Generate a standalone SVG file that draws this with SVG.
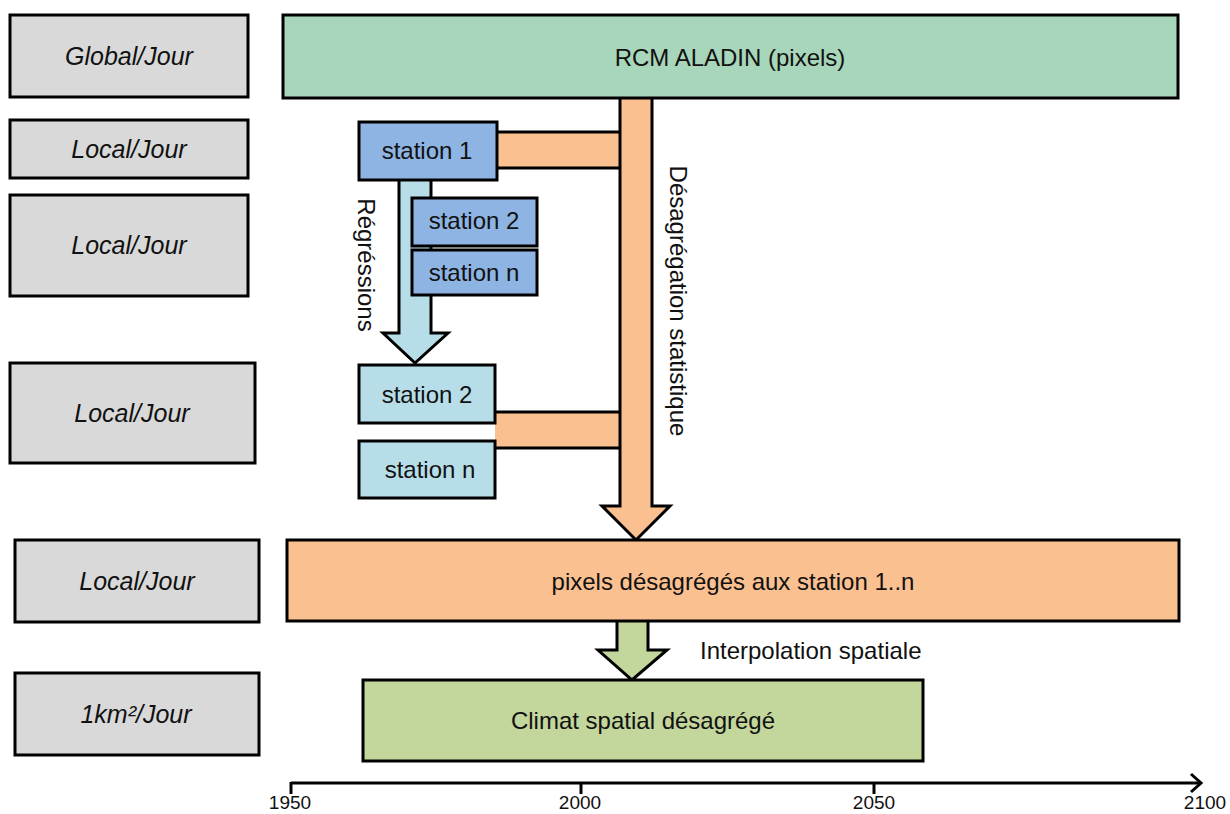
<svg xmlns="http://www.w3.org/2000/svg" width="1230" height="814" viewBox="0 0 1230 814">
<style>
.lbl{fill:#D9D9D9;stroke:#000;stroke-width:3}
.li{font-family:"Liberation Sans",Arial,sans-serif;font-style:italic;font-size:25px;fill:#111;text-anchor:middle}
.t{font-family:"Liberation Sans",Arial,sans-serif;font-size:24px;fill:#111;text-anchor:middle}
.s{stroke:#000;stroke-width:3;stroke-linejoin:miter}
.bar{stroke:#000;stroke-width:3}
.ax{font-family:"Liberation Sans",Arial,sans-serif;font-size:19px;fill:#111;text-anchor:middle}
</style>
<rect width="1230" height="814" fill="#fff"/>
<g id="scale-labels">
<g id="lbl-global"><rect class="lbl" x="10" y="15" width="238" height="82"/><text class="li" x="129" y="65">Global/Jour</text></g>
<g id="lbl-local1"><rect class="lbl" x="10" y="120" width="238" height="58"/><text class="li" x="129" y="158">Local/Jour</text></g>
<g id="lbl-local2"><rect class="lbl" x="10" y="195" width="238" height="101"/><text class="li" x="129" y="254">Local/Jour</text></g>
<g id="lbl-local3"><rect class="lbl" x="10" y="363" width="245" height="100"/><text class="li" x="132" y="422">Local/Jour</text></g>
<g id="lbl-local4"><rect class="lbl" x="15" y="540" width="244" height="82"/><text class="li" x="137" y="590">Local/Jour</text></g>
<g id="lbl-1km"><rect class="lbl" x="15" y="673" width="244" height="82"/><text class="li" x="136" y="723">1km²/Jour</text></g>
</g>
<g id="connectors">
<rect x="497" y="132" width="123" height="36" fill="#FAC090"/>
<line class="bar" x1="497" y1="132" x2="620" y2="132"/>
<line class="bar" x1="497" y1="168" x2="620" y2="168"/>
<rect x="495" y="412" width="125" height="36" fill="#FAC090"/>
<line class="bar" x1="495" y1="412" x2="620" y2="412"/>
<line class="bar" x1="495" y1="448" x2="620" y2="448"/>
<polygon class="s" fill="#FAC090" points="620,96 652,96 652,506 670,506 636,540 602,506 620,506"/>
<polygon class="s" fill="#B7DEE8" points="399,178 431,178 431,333 448,333 415,363 383,333 399,333"/>
<polygon class="s" fill="#C3D69B" points="617,620 648,620 648,650 667,650 632,680 598,650 617,650"/>
</g>
<g id="rcm"><rect class="s" x="283" y="15" width="895" height="83" fill="#A8D6BA"/><text class="t" x="730" y="66">RCM ALADIN (pixels)</text></g>
<g id="station1"><rect class="s" x="359" y="122" width="138" height="58" fill="#8EB4E3"/><text class="t" x="427" y="159">station 1</text></g>
<g id="station2a"><rect class="s" x="412" y="198" width="125" height="48" fill="#8EB4E3"/><text class="t" x="474" y="229">station 2</text></g>
<g id="stationna"><rect class="s" x="412" y="250" width="125" height="45" fill="#8EB4E3"/><text class="t" x="474" y="281">station n</text></g>
<g id="station2b"><rect class="s" x="359" y="365" width="136" height="58" fill="#B7DEE8"/><text class="t" x="427" y="403">station 2</text></g>
<g id="stationnb"><rect class="s" x="359" y="441" width="136" height="57" fill="#B7DEE8"/><text class="t" x="430" y="478">station n</text></g>
<g id="pixels"><rect class="s" x="287" y="540" width="892" height="81" fill="#FAC090"/><text class="t" x="733" y="590">pixels désagrégés aux station 1..n</text></g>
<g id="climat"><rect class="s" x="363" y="680" width="560" height="81" fill="#C3D69B"/><text class="t" x="643" y="729">Climat spatial désagrégé</text></g>
<g id="labels">
<text class="t" transform="translate(358,265) rotate(90)">Régréssions</text>
<text class="t" transform="translate(670,301) rotate(90)">Désagrégation statistique</text>
<text class="t" x="700" y="659" style="text-anchor:start">Interpolation spatiale</text>
</g>
<g id="axis">
<line x1="291" y1="783" x2="1201" y2="783" stroke="#000" stroke-width="3"/>
<polyline points="1191,774 1201,783 1191,792" fill="none" stroke="#000" stroke-width="3"/>
<line x1="291" y1="782" x2="291" y2="794" stroke="#000" stroke-width="3"/>
<line x1="581" y1="782" x2="581" y2="794" stroke="#000" stroke-width="3"/>
<line x1="874" y1="782" x2="874" y2="794" stroke="#000" stroke-width="3"/>
<text class="ax" x="290" y="809">1950</text>
<text class="ax" x="580" y="809">2000</text>
<text class="ax" x="874" y="809">2050</text>
<text class="ax" x="1205" y="809">2100</text>
</g>
</svg>
